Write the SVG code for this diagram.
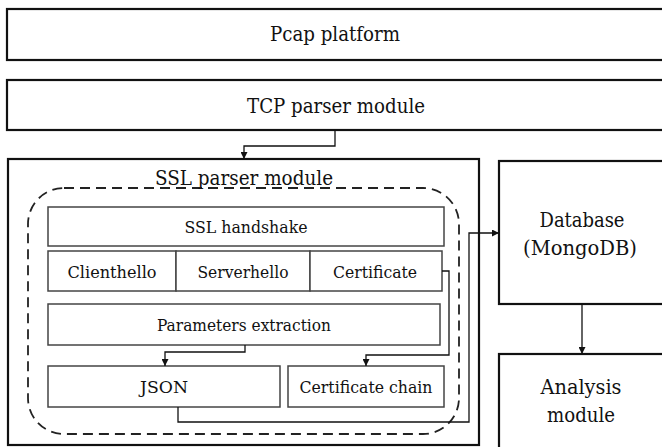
<svg xmlns="http://www.w3.org/2000/svg" width="662" height="447" viewBox="0 0 662 447">
<style>
.outer{fill:#fff;stroke:#111;stroke-width:2.2}
.inner{fill:#fff;stroke:#444;stroke-width:1.5}
.dash{fill:none;stroke:#222;stroke-width:1.8;stroke-dasharray:10 6}
.conn{fill:none;stroke:#111;stroke-width:1.3}
text{font-family:'DejaVu Serif Condensed','DejaVu Serif',serif;fill:#111;text-anchor:middle}
.t1{font-size:20.5px}
.t2{font-size:17.5px}
</style>
<defs>
<marker id="arr" viewBox="0 0 10 10" refX="10" refY="5" markerWidth="7" markerHeight="7" markerUnits="userSpaceOnUse" orient="auto">
<path d="M0,0 L10,5 L0,10 z" fill="#111"/>
</marker>
</defs>
<rect width="662" height="447" fill="#fff"/>
<g id="pcap"><rect class="outer" x="7" y="9" width="660" height="51"/><text class="t1" x="335" y="41" textLength="130" lengthAdjust="spacingAndGlyphs">Pcap platform</text></g>
<g id="tcp"><rect class="outer" x="7" y="80" width="660" height="50"/><text class="t1" x="336" y="113" textLength="178" lengthAdjust="spacingAndGlyphs">TCP parser module</text></g>
<g id="ssl"><rect class="outer" x="8" y="159" width="471" height="286"/>
<rect class="dash" x="28" y="188" width="431" height="246" rx="36" ry="36"/>
<text class="t1" x="244" y="185" textLength="178" lengthAdjust="spacingAndGlyphs">SSL parser module</text></g>
<g id="handshake"><rect class="inner" x="48" y="207" width="396" height="39"/><text class="t2" x="246" y="233" textLength="123" lengthAdjust="spacingAndGlyphs">SSL handshake</text></g>
<g id="clienthello"><rect class="inner" x="48" y="251" width="128" height="40"/><text class="t2" x="112" y="278" textLength="89" lengthAdjust="spacingAndGlyphs">Clienthello</text></g>
<g id="serverhello"><rect class="inner" x="176" y="251" width="134" height="40"/><text class="t2" x="243" y="278" textLength="91" lengthAdjust="spacingAndGlyphs">Serverhello</text></g>
<g id="certificate"><rect class="inner" x="310" y="251" width="132" height="40"/><text class="t2" x="375" y="278" textLength="84" lengthAdjust="spacingAndGlyphs">Certificate</text></g>
<g id="params"><rect class="inner" x="48" y="304" width="392" height="41"/><text class="t2" x="244" y="331" textLength="174" lengthAdjust="spacingAndGlyphs">Parameters extraction</text></g>
<g id="json"><rect class="inner" x="48" y="366" width="232" height="41"/><text class="t2" x="164" y="393" textLength="48" lengthAdjust="spacingAndGlyphs">JSON</text></g>
<g id="chain"><rect class="inner" x="288" y="366" width="156" height="41"/><text class="t2" x="366" y="393" textLength="133" lengthAdjust="spacingAndGlyphs">Certificate chain</text></g>
<g id="database"><rect class="outer" x="499" y="161" width="170" height="143"/><text class="t1" x="582" y="227" textLength="85" lengthAdjust="spacingAndGlyphs">Database</text><text class="t1" x="580" y="255" textLength="114" lengthAdjust="spacingAndGlyphs">(MongoDB)</text></g>
<g id="analysis"><rect class="outer" x="499" y="354" width="170" height="100"/><text class="t1" x="581" y="394" textLength="81" lengthAdjust="spacingAndGlyphs">Analysis</text><text class="t1" x="581" y="422" textLength="68" lengthAdjust="spacingAndGlyphs">module</text></g>
<g id="connectors">
<path class="conn" d="M335,130 V146 H244 V159" marker-end="url(#arr)"/>
<path class="conn" d="M245,345 V352 H165 V366" marker-end="url(#arr)"/>
<path class="conn" d="M442,271 H449 V355 H366 V366" marker-end="url(#arr)"/>
<path class="conn" d="M178,407 V422 H469 V233 H499" marker-end="url(#arr)"/>
<path class="conn" d="M582,304 V354" marker-end="url(#arr)"/>
</g>
</svg>
